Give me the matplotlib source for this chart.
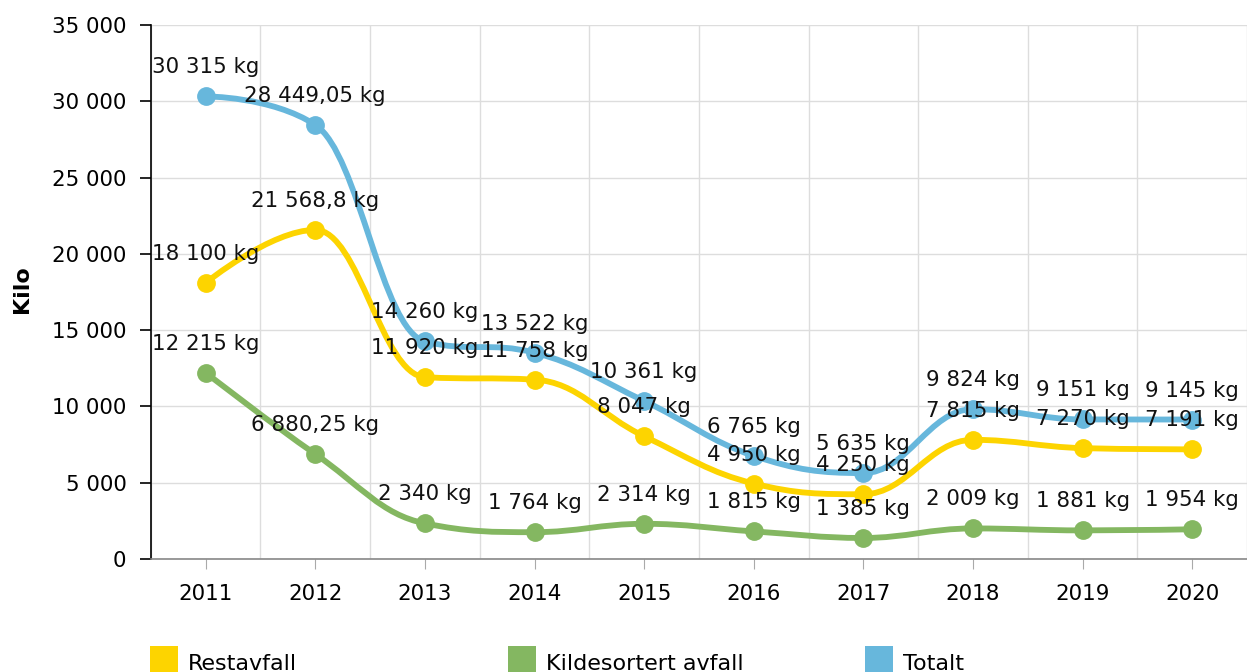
import numpy as np
import matplotlib
matplotlib.use("Agg")
import matplotlib.pyplot as plt
from matplotlib.path import Path
from matplotlib.patches import PathPatch, Rectangle

# data
years = ['2011', '2012', '2013', '2014', '2015', '2016', '2017', '2018', '2019', '2020']
restavfall = [18100, 21568.8, 11920, 11758, 8047, 4950, 4250, 7815, 7270, 7191]
kildesortert = [12215, 6880.25, 2340, 1764, 2314, 1815, 1385, 2009, 1881, 1954]
totalt = [30315, 28449.05, 14260, 13522, 10361, 6765, 5635, 9824, 9151, 9145]
series_names = ['Restavfall', 'Kildesortert avfall', 'Totalt']
colors = ['#fdd400', '#84b761', '#67b7dc']


def fmt_num(v):
    # norsk format: mellomrom som tusenskille, komma som desimal
    s = f"{v:,.2f}".rstrip('0').rstrip('.')
    return s.replace(',', ' ').replace('.', ',')


def spline_path(xs, ys, smoothing=1.5):
    # glatt kurve i samme stil som highcharts "spline"
    denom = smoothing + 1
    n = len(xs)
    lc = [None] * n
    rc = [None] * n
    for i in range(1, n - 1):
        px, py = xs[i], ys[i]
        lx, ly = xs[i - 1], ys[i - 1]
        nx, ny = xs[i + 1], ys[i + 1]
        lcx = (smoothing * px + lx) / denom
        lcy = (smoothing * py + ly) / denom
        rcx = (smoothing * px + nx) / denom
        rcy = (smoothing * py + ny) / denom
        corr = (rcy - lcy) * (rcx - px) / (rcx - lcx) + py - rcy
        lcy += corr
        rcy += corr
        if lcy > ly and lcy > py:
            lcy = max(ly, py)
            rcy = 2 * py - lcy
        elif lcy < ly and lcy < py:
            lcy = min(ly, py)
            rcy = 2 * py - lcy
        if rcy > ny and rcy > py:
            rcy = max(ny, py)
            lcy = 2 * py - rcy
        elif rcy < ny and rcy < py:
            rcy = min(ny, py)
            lcy = 2 * py - rcy
        lc[i] = (lcx, lcy)
        rc[i] = (rcx, rcy)
    verts = [(xs[0], ys[0])]
    codes = [Path.MOVETO]
    for i in range(1, n):
        c1 = rc[i - 1] if rc[i - 1] is not None else (xs[i - 1], ys[i - 1])
        c2 = lc[i] if lc[i] is not None else (xs[i], ys[i])
        verts += [c1, c2, (xs[i], ys[i])]
        codes += [Path.CURVE4] * 3
    return Path(verts, codes)


fig = plt.figure(figsize=(12.47, 6.72), dpi=100)
ax = fig.add_axes([0.121, 0.168, 0.879, 0.795])

x = np.arange(len(years))
ax.set_xlim(-0.48, 9.5)
ax.set_ylim(0, 35000)

for vals, col in zip([restavfall, kildesortert, totalt], colors):
    ax.add_patch(PathPatch(spline_path(list(x), vals), facecolor='none',
                           edgecolor=col, lw=4.2, capstyle='round', zorder=3))
    ax.plot(x, vals, 'o', color=col, ms=12.5, zorder=4)
    for xi, v in zip(x, vals):
        ax.annotate(f"{fmt_num(v)} kg", (xi, v), xytext=(0, 19),
                    textcoords='offset pixels', ha='center', va='bottom',
                    fontsize=15.4, color='#111111', zorder=5,
                    annotation_clip=False)

# akser
ax.set_yticks(np.arange(0, 35001, 5000))
ax.set_yticklabels([fmt_num(v) for v in np.arange(0, 35001, 5000)])
ax.set_xticks(x)
ax.set_xticklabels(years)
ax.set_xticks(np.arange(-0.5, 9.6, 1), minor=True)
ax.tick_params(axis='y', labelsize=15.4, length=8, width=1.2, color='black', pad=9.5)
ax.tick_params(axis='x', which='major', labelsize=15.4, length=7, color='#aaaaaa', pad=11)
ax.tick_params(axis='x', which='minor', length=0)
ax.grid(True, axis='y', color='#dddddd', lw=1)
ax.grid(True, axis='x', which='minor', color='#dddddd', lw=1)
ax.set_axisbelow(True)
for s in ['top', 'right']:
    ax.spines[s].set_visible(False)
ax.spines['left'].set_color('black')
ax.spines['left'].set_linewidth(1.2)
ax.spines['bottom'].set_color('#888888')
ax.spines['bottom'].set_linewidth(1.2)

fig.text(0.018, 0.57, 'Kilo', rotation=90, fontsize=16, fontweight='bold',
         ha='center', va='center')

# forklaring nederst
leg_x = [0.1205, 0.4075, 0.6935]
for lx, name, col in zip(leg_x, series_names, colors):
    fig.add_artist(Rectangle((lx, -0.005), 0.0225, 0.043, transform=fig.transFigure,
                             facecolor=col, edgecolor='none'))
    fig.text(lx + 0.0305, 0.003, name, fontsize=16, va='baseline', ha='left')

fig.savefig('out.png', dpi=100)
